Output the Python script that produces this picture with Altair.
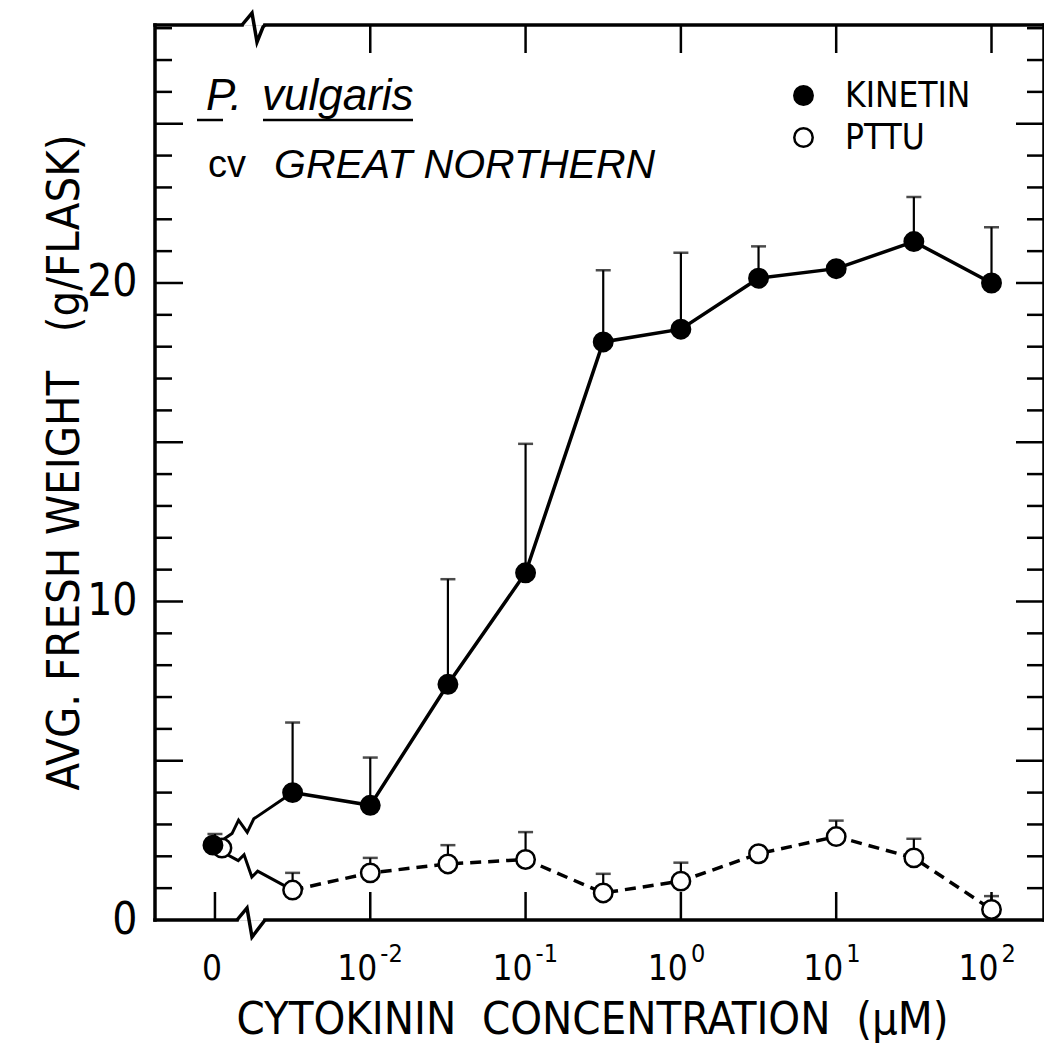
import altair as alt
import pandas as pd

# ---- data (x = log10 of concentration in µM; -3 stands for the "0" control) ----
conc_log = [-3, -2.5, -2, -1.5, -1, -0.5, 0, 0.5, 1, 1.5, 2]
kinetin_mean = [2.35, 4.0, 3.6, 7.4, 10.9, 18.15, 18.55, 20.15, 20.45, 21.3, 20.0]
kinetin_upper = [2.7, 6.2, 5.1, 10.7, 14.95, 20.4, 20.95, 21.15, None, 22.7, 21.75]
pttu_mean = [2.26, 0.94, 1.48, 1.76, 1.9, 0.85, 1.22, 2.08, 2.62, 1.95, 0.33]
pttu_upper = [None, 1.48, 1.95, 2.35, 2.76, 1.45, 1.8, None, 3.12, 2.55, 0.75]

x_tick_vals = [-3, -2, -1, 0, 1, 2]
x_tick_base = ["0", "10", "10", "10", "10", "10"]
x_tick_exp = ["", "-2", "-1", "0", "1", "2"]
y_label_vals = [0, 10, 20]
y_minor_ticks = [v for v in range(1, 29) if v % 5 != 0]
y_major_ticks = [5, 10, 15, 20, 25]

# ---- layout ----
W, H = 889, 895
XMIN, XMAX = -3.386, 2.338
YMIN, YMAX = 0.0, 28.1
FONT = "DejaVu Sans Condensed, Liberation Sans, Arial, sans-serif"
REG = "Liberation Sans, Arial, sans-serif"
LW = 3.5
NB = "\u00a0"

xscale = alt.Scale(domain=[XMIN, XMAX], nice=False, zero=False)
yscale = alt.Scale(domain=[YMIN, YMAX], nice=False, zero=False)

AXX = alt.Axis(labels=False, ticks=False, domain=False, grid=False,
               title=f"CYTOKININ{NB}{NB}CONCENTRATION{NB}{NB}(μM)", titleFont=FONT,
               titleFontSize=45, titleFontWeight="normal", titleColor="black",
               titleX=437, titleY=113, titleAlign="center",
               titleBaseline="alphabetic", titleAnchor="middle")
AXY = alt.Axis(values=y_label_vals, tickSize=0, domain=False, grid=False,
               labelFont=FONT, labelFontSize=44, labelColor="black",
               labelPadding=18, labelBaseline="middle",
               title=f"AVG.{NB}FRESH{NB}WEIGHT{NB}{NB}{NB}(g/FLASK)", titleFont=FONT,
               titleFontSize=45, titleFontWeight="normal", titleColor="black",
               titleAngle=270, titleX=-77, titleY=437, titleAlign="center",
               titleBaseline="alphabetic")


def to_px(xv, yv):
    return ((xv - XMIN) / (XMAX - XMIN) * W, (YMAX - yv) / (YMAX - YMIN) * H)


def to_data(px, py):
    return (XMIN + px / W * (XMAX - XMIN), YMAX - py / H * (YMAX - YMIN))


def zig(x0, y0, x1, y1, ta, tb, amp):
    X0, Y0 = to_px(x0, y0)
    X1, Y1 = to_px(x1, y1)

    def P(t, off=0.0):
        return (X0 + (X1 - X0) * t, Y0 + (Y1 - Y0) * t + off)

    pts = [P(0), P(ta), P(ta + (tb - ta) * 0.3, -amp), P(ta + (tb - ta) * 0.7, amp), P(tb), P(1)]
    return [to_data(*p) for p in pts]


rows = []
for s, means, ups in [("PTTU", pttu_mean, pttu_upper), ("KINETIN", kinetin_mean, kinetin_upper)]:
    for xv, m, u in zip(conc_log, means, ups):
        rows.append(dict(series=s, x=xv, mean=m, upper=u))
df = pd.DataFrame(rows)

X = lambda f: alt.X(f, type="quantitative", scale=xscale, axis=AXX)
Y = lambda f: alt.Y(f, type="quantitative", scale=yscale, axis=AXY)

# ---- data lines ----
kin_line = alt.Chart(df[(df.series == "KINETIN") & (df.x >= -2.5)]).mark_line(
    color="black", strokeWidth=LW).encode(x=X("x"), y=Y("mean"))
pttu_line = alt.Chart(df[(df.series == "PTTU") & (df.x >= -2.5)]).mark_line(
    color="black", strokeWidth=LW, strokeDash=[11, 7]).encode(x=X("x"), y=Y("mean"))

zrows = []
for s, pts in [("K", zig(conc_log[0], kinetin_mean[0], conc_log[1], kinetin_mean[1], 0.22, 0.5, 9)),
               ("P", zig(conc_log[0], pttu_mean[0], conc_log[1], pttu_mean[1], 0.3, 0.55, 9))]:
    for i, (a, b) in enumerate(pts):
        zrows.append(dict(s=s, i=i, zx=a, zy=b))
zdf = pd.DataFrame(zrows)
zig_lines = alt.Chart(zdf).mark_line(color="black", strokeWidth=LW - 0.5).encode(
    x=X("zx"), y=Y("zy"), detail="s:N", order="i:Q")

# ---- frame (with axis breaks) ----
brows = []
for s, pts in [("top", [(87, 0), (97, -12), (102, 17), (108, 2), (110, 0)]),
               ("bot", [(82, H), (92, H - 12), (97, H + 17), (110, H)])]:
    for i, (a, b) in enumerate(pts):
        dx, dy = to_data(a, b)
        brows.append(dict(s=s, i=i, bx=dx, by=dy))
bdf = pd.DataFrame(brows)
break_lines = alt.Chart(bdf).mark_line(color="black", strokeWidth=LW, clip=False).encode(
    x=X("bx"), y=Y("by"), detail="s:N", order="i:Q")

one = pd.DataFrame({"a": [0]})
frame_parts = [
    dict(x=0, x2=0, y=0, y2=H),
    dict(x=W, x2=W, y=0, y2=H),
    dict(x=0, x2=87, y=0, y2=0),
    dict(x=110, x2=W, y=0, y2=0),
    dict(x=0, x2=82, y=H, y2=H),
    dict(x=110, x2=W, y=H, y2=H),
]
frame = [alt.Chart(one).mark_rule(color="black", strokeWidth=LW, strokeCap="square").encode(
    x=alt.value(p["x"]), x2=alt.value(p["x2"]), y=alt.value(p["y"]), y2=alt.value(p["y2"]))
    for p in frame_parts]

# ---- inward ticks ----
tdf_minor = pd.DataFrame({"t": y_minor_ticks})
tdf_major = pd.DataFrame({"t": y_major_ticks})
tick_layers = []
for d, ln in [(tdf_minor, 17), (tdf_major, 28)]:
    tick_layers.append(alt.Chart(d).mark_rule(color="black", strokeWidth=2.5).encode(
        y=Y("t"), x=alt.value(0), x2=alt.value(ln)))
    tick_layers.append(alt.Chart(d).mark_rule(color="black", strokeWidth=2.5).encode(
        y=Y("t"), x=alt.value(W), x2=alt.value(W - ln)))
xt = pd.DataFrame({"t": x_tick_vals, "base": x_tick_base, "exp": x_tick_exp})
tick_layers.append(alt.Chart(xt[xt.t > -3]).mark_rule(color="black", strokeWidth=2.5).encode(
    x=X("t"), y=alt.value(0), y2=alt.value(28)))
tick_layers.append(alt.Chart(xt).mark_rule(color="black", strokeWidth=2.5).encode(
    x=X("t"), y=alt.value(H), y2=alt.value(H - 28)))

# ---- x tick labels ----
lab0 = alt.Chart(xt[xt.base == "0"]).mark_text(
    font=FONT, fontSize=35, color="black", align="center", baseline="alphabetic", dx=-3).encode(
    x=X("t"), y=alt.value(H + 60), text="base:N")
lab10 = alt.Chart(xt[xt.base == "10"]).mark_text(
    font=FONT, fontSize=35, color="black", align="right", baseline="alphabetic", dx=7).encode(
    x=X("t"), y=alt.value(H + 60), text="base:N")
labexp = alt.Chart(xt[xt.exp != ""]).mark_text(
    font=FONT, fontSize=25, color="black", align="left", baseline="alphabetic", dx=10).encode(
    x=X("t"), y=alt.value(H + 42), text="exp:N")

# ---- error bars ----
edf = df[df.upper.notna()]
err_rule = alt.Chart(edf).mark_rule(color="black", strokeWidth=2.2).encode(
    x=X("x"), y=Y("mean"), y2="upper:Q")
err_cap = alt.Chart(edf).mark_tick(color="black", orient="horizontal", size=15, thickness=2.5).encode(
    x=X("x"), y=Y("upper"))

# ---- points ----
pts_main = alt.Chart(df[df.x > -3]).mark_point(
    shape="circle", filled=True, stroke="black", strokeWidth=2.5, size=340, opacity=1).encode(
    x=X("x"), y=Y("mean"),
    fill=alt.Fill("series:N", scale=alt.Scale(domain=["KINETIN", "PTTU"], range=["black", "white"]),
                  legend=alt.Legend(orient="none", legendX=631, legendY=53, title=None,
                                    labelFont=FONT, labelFontSize=35, labelColor="black",
                                    symbolType="circle", symbolSize=340,
                                    symbolStrokeColor="black", symbolStrokeWidth=2.5,
                                    labelOffset=24, rowPadding=6, padding=0)),
)
ctrl_p = alt.Chart(df[(df.x == -3) & (df.series == "PTTU")]).mark_point(
    shape="circle", filled=True, fill="white", stroke="black", strokeWidth=2.5, size=340,
    opacity=1, xOffset=7).encode(x=X("x"), y=Y("mean"))
ctrl_k = alt.Chart(df[(df.x == -3) & (df.series == "KINETIN")]).mark_point(
    shape="circle", filled=True, fill="black", stroke="black", strokeWidth=2.5, size=340,
    opacity=1, xOffset=-2).encode(x=X("x"), y=Y("mean"))

# ---- annotations ----
def txt(s, x, y, size, style="normal", font=REG):
    return alt.Chart(pd.DataFrame({"t": [s]})).mark_text(
        font=font, fontSize=size, fontStyle=style, color="black", align="left",
        baseline="alphabetic").encode(x=alt.value(x), y=alt.value(y), text="t:N")

ann = [
    txt("P.", 51, 85, 44, "italic"),
    txt("vulgaris", 107, 85, 44, "italic"),
    txt("cv", 53, 152, 38),
    txt("GREAT NORTHERN", 119, 153, 41, "italic"),
]
ulines = [alt.Chart(one).mark_rule(color="black", strokeWidth=2.5).encode(
    x=alt.value(a), x2=alt.value(b), y=alt.value(95)) for a, b in [(42, 68), (108, 258)]]

chart = alt.layer(
    *tick_layers, *frame, break_lines,
    kin_line, pttu_line, zig_lines,
    err_rule, err_cap,
    pts_main, ctrl_p, ctrl_k,
    lab0, lab10, labexp,
    *ann, *ulines,
).properties(
    width=W, height=H,
    autosize=alt.AutoSizeParams(type="none"),
    padding={"left": 147, "top": 17, "right": 0, "bottom": 130},
).configure_view(stroke=None).configure(background="white")

chart.save("out.html", embed_options={"renderer": "svg", "actions": False})
